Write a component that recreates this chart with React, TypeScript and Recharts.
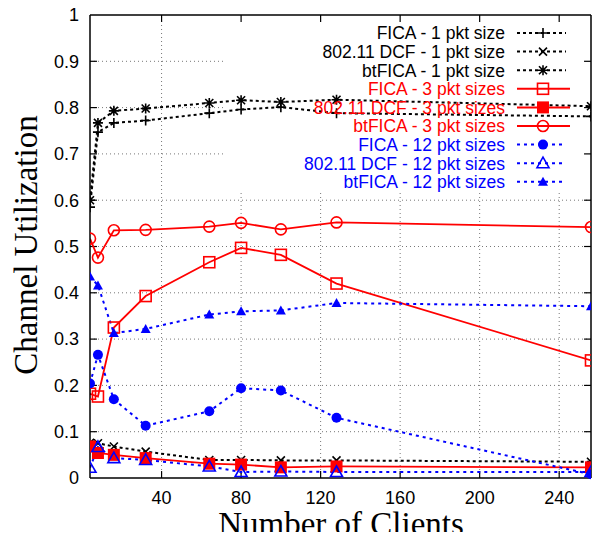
import React from "react";
import { LineChart, Line, XAxis, YAxis, ReferenceLine, Legend, Label } from "recharts";

// number of clients on the x axis
const clients = [4, 8, 16, 32, 64, 80, 100, 128, 256];

// channel utilization per scheme
const ficaOne = [0.585, 0.747, 0.767, 0.772, 0.788, 0.796, 0.801, 0.788, 0.781];
const dcfOne = [0.076, 0.075, 0.068, 0.057, 0.039, 0.039, 0.038, 0.038, 0.035];
const btficaOne = [0.6, 0.767, 0.793, 0.798, 0.81, 0.816, 0.812, 0.817, 0.803];
const ficaThree = [0.182, 0.176, 0.325, 0.393, 0.466, 0.497, 0.482, 0.42, 0.254];
const dcfThree = [0.068, 0.054, 0.05, 0.043, 0.031, 0.029, 0.023, 0.025, 0.023];
const btficaThree = [0.517, 0.476, 0.535, 0.536, 0.543, 0.551, 0.537, 0.552, 0.542];
const ficaTwelve = [0.204, 0.266, 0.17, 0.113, 0.144, 0.194, 0.189, 0.13, 0.008];
const dcfTwelve = [0.022, 0.067, 0.043, 0.039, 0.025, 0.013, 0.014, 0.013, 0.013];
const btficaTwelve = [0.435, 0.416, 0.313, 0.322, 0.353, 0.36, 0.362, 0.378, 0.371];

const xTicks = [40, 80, 120, 160, 200, 240];
const yTicks = [0, 0.1, 0.2, 0.3, 0.4, 0.5, 0.6, 0.7, 0.8, 0.9, 1];

const BLACK = "#000";
const RED = "#ff0000";
const BLUE = "#0000ff";
const SANS = "'Liberation Sans', Arial, Helvetica, sans-serif";
const SERIF = "'Liberation Serif', 'Times New Roman', serif";

type Shape = "plus" | "cross" | "star" | "square" | "fsquare" | "circle" | "fcircle" | "triangle" | "ftriangle";

const series: { key: string; name: string; values: number[]; color: string; dash?: string; shape: Shape }[] = [
  { key: "ficaOne", name: "FICA - 1 pkt size", values: ficaOne, color: BLACK, dash: "3 3", shape: "plus" },
  { key: "dcfOne", name: "802.11 DCF - 1 pkt size", values: dcfOne, color: BLACK, dash: "3 3", shape: "cross" },
  { key: "btficaOne", name: "btFICA - 1 pkt size", values: btficaOne, color: BLACK, dash: "3 3", shape: "star" },
  { key: "ficaThree", name: "FICA - 3 pkt sizes", values: ficaThree, color: RED, shape: "square" },
  { key: "dcfThree", name: "802.11 DCF - 3 pkt sizes", values: dcfThree, color: RED, shape: "fsquare" },
  { key: "btficaThree", name: "btFICA - 3 pkt sizes", values: btficaThree, color: RED, shape: "circle" },
  { key: "ficaTwelve", name: "FICA - 12 pkt sizes", values: ficaTwelve, color: BLUE, dash: "3 4", shape: "fcircle" },
  { key: "dcfTwelve", name: "802.11 DCF - 12 pkt sizes", values: dcfTwelve, color: BLUE, dash: "3 4", shape: "triangle" },
  { key: "btficaTwelve", name: "btFICA - 12 pkt sizes", values: btficaTwelve, color: BLUE, dash: "3 4", shape: "ftriangle" },
];

const data = clients.map((x, i) => {
  const row: Record<string, number> = { x };
  series.forEach((s) => (row[s.key] = s.values[i]));
  return row;
});

function Marker({ shape, cx, cy, color }: { shape: Shape; cx: number; cy: number; color: string }) {
  const sw = 1.6;
  switch (shape) {
    case "plus":
      return <path d={`M${cx - 5},${cy}h10M${cx},${cy - 5}v10`} stroke={color} strokeWidth={sw} fill="none" />;
    case "cross":
      return <path d={`M${cx - 4},${cy - 4}l8,8M${cx + 4},${cy - 4}l-8,8`} stroke={color} strokeWidth={sw} fill="none" />;
    case "star":
      return (
        <path
          d={`M${cx - 5},${cy}h10M${cx},${cy - 5}v10M${cx - 4},${cy - 4}l8,8M${cx + 4},${cy - 4}l-8,8`}
          stroke={color}
          strokeWidth={sw}
          fill="none"
        />
      );
    case "square":
      return <rect x={cx - 5.5} y={cy - 5.5} width={11} height={11} stroke={color} strokeWidth={sw} fill="none" />;
    case "fsquare":
      return <rect x={cx - 6} y={cy - 6} width={12} height={12} fill={color} />;
    case "circle":
      return <circle cx={cx} cy={cy} r={5.5} stroke={color} strokeWidth={sw} fill="none" />;
    case "fcircle":
      return <circle cx={cx} cy={cy} r={5} fill={color} />;
    case "triangle":
      return (
        <path
          d={`M${cx},${cy - 6}L${cx + 6},${cy + 4.5}L${cx - 6},${cy + 4.5}Z`}
          stroke={color}
          strokeWidth={sw}
          fill="none"
        />
      );
    case "ftriangle":
      return <path d={`M${cx},${cy - 5}L${cx + 5},${cy + 4}L${cx - 5},${cy + 4}Z`} fill={color} />;
  }
}

const renderLegend = () => (
  <svg width={370} height={180} style={{ display: "block" }}>
    {series.map((s, i) => {
      const y = 18 + i * 18.6;
      return (
        <g key={s.key}>
          <text x={282} y={y} dy="0.36em" textAnchor="end" fontFamily={SANS} fontSize={17.5} fill={s.color}>
            {s.name}
          </text>
          <line x1={294} x2={s.dash ? 343 : 347} y1={y} y2={y} stroke={s.color} strokeWidth={s.dash ? 2 : 2} strokeDasharray={s.dash} />
          <Marker shape={s.shape} cx={320} cy={y} color={s.color} />
        </g>
      );
    })}
  </svg>
);

const gridStyle = { stroke: "#777", strokeWidth: 1, strokeDasharray: "1 3" };
const keyLeft = 70.9;
const keyBottom = 0.618;

export default function App() {
  return (
    <div style={{ position: "absolute", left: 0, top: 0, width: 592, height: 538, background: "#fff", overflow: "hidden" }}>
      <div style={{ width: 592, height: 532, overflow: "hidden" }}>
        <LineChart width={592} height={538} data={data} margin={{ top: 15, right: 1, bottom: 0, left: 0 }}>
          <XAxis
            dataKey="x"
            type="number"
            domain={[4, 256]}
            ticks={xTicks}
            allowDataOverflow
            tickLine={false}
            tickSize={6}
            tickMargin={7}
            height={60}
            axisLine={{ stroke: BLACK, strokeWidth: 1.5 }}
            tick={{ fill: BLACK, fontSize: 18, fontFamily: SANS }}
          >
            <Label
              content={() => (
                <text x={341} y={534.5} textAnchor="middle" fontFamily={SERIF} fontSize={33} fill={BLACK}>
                  Number of Clients
                </text>
              )}
            />
          </XAxis>
          <YAxis
            type="number"
            domain={[0, 1]}
            ticks={yTicks}
            tickLine={false}
            tickSize={6}
            tickMargin={5}
            width={90}
            axisLine={{ stroke: BLACK, strokeWidth: 1.5 }}
            tick={{ fill: BLACK, fontSize: 18, fontFamily: SANS }}
          >
            <Label
              content={() => (
                <text
                  x={37}
                  y={245}
                  transform="rotate(-90 37 245)"
                  textAnchor="middle"
                  fontFamily={SERIF}
                  fontSize={33}
                  fill={BLACK}
                >
                  Channel Utilization
                </text>
              )}
            />
          </YAxis>

          {/* grid, left out where the key sits */}
          {yTicks.slice(1, -1).map((v) => (
            <ReferenceLine
              key={`gy${v}`}
              segment={[{ x: 4, y: v }, { x: v > keyBottom ? keyLeft : 256, y: v }]}
              {...gridStyle}
            />
          ))}
          {xTicks.map((t) => (
            <ReferenceLine
              key={`gx${t}`}
              segment={[{ x: t, y: 0 }, { x: t, y: t < keyLeft ? 1 : keyBottom }]}
              {...gridStyle}
            />
          ))}

          {/* frame and inward ticks */}
          <ReferenceLine y={1} stroke={BLACK} strokeWidth={1.5} />
          <ReferenceLine x={256} stroke={BLACK} strokeWidth={1.5} />
          {xTicks.map((t) => (
            <ReferenceLine key={`tb${t}`} segment={[{ x: t, y: 0 }, { x: t, y: 0.015 }]} stroke={BLACK} strokeWidth={1.2} />
          ))}
          {xTicks.map((t) => (
            <ReferenceLine key={`tt${t}`} segment={[{ x: t, y: 1 }, { x: t, y: 0.985 }]} stroke={BLACK} strokeWidth={1.2} />
          ))}
          {yTicks.slice(1, -1).map((v) => (
            <ReferenceLine key={`tl${v}`} segment={[{ x: 4, y: v }, { x: 7.5, y: v }]} stroke={BLACK} strokeWidth={1.2} />
          ))}
          {yTicks.slice(1, -1).map((v) => (
            <ReferenceLine key={`tr${v}`} segment={[{ x: 256, y: v }, { x: 252.5, y: v }]} stroke={BLACK} strokeWidth={1.2} />
          ))}

          {series.map((s) => (
            <Line
              key={s.key}
              dataKey={s.key}
              name={s.name}
              type="linear"
              stroke={s.color}
              strokeWidth={s.dash ? 2 : 1.8}
              strokeDasharray={s.dash}
              isAnimationActive={false}
              dot={(p: any) => <Marker key={`${s.key}${p.index}`} shape={s.shape} cx={p.cx} cy={p.cy} color={s.color} />}
              activeDot={false}
            />
          ))}

          <Legend
            layout="vertical"
            align="center"
            verticalAlign="middle"
            content={renderLegend}
            wrapperStyle={{ position: "absolute", left: 223, top: 15, width: 370, height: 180 }}
          />
        </LineChart>
      </div>
    </div>
  );
}
